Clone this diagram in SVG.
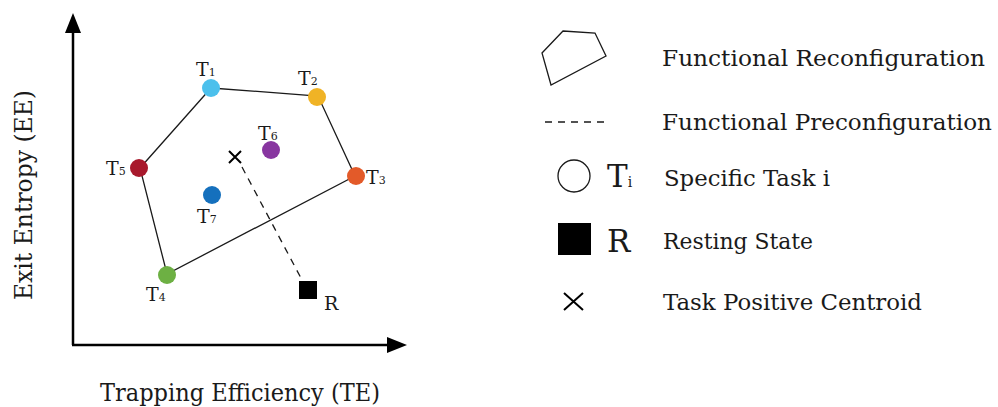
<svg xmlns="http://www.w3.org/2000/svg" width="998" height="407" viewBox="0 0 998 407">
<defs>
<style>
.t{font-family:"DejaVu Serif","Liberation Serif",serif;fill:#1a1a1a}
.lbl{font-size:19px}
.sub{font-size:11px}
.leg{font-size:22px}
.ax{font-size:25px}
.poly{fill:none;stroke:#1a1a1a;stroke-width:1.3}
.dash{fill:none;stroke:#1a1a1a;stroke-width:1.3;stroke-dasharray:7,6}
.axis{fill:none;stroke:#000;stroke-width:2.5}
</style>
</defs>
<g id="axes">
<line class="axis" x1="73" y1="345" x2="73" y2="28"/>
<polygon points="73,13 65,33 81,33" fill="#000"/>
<line class="axis" x1="72" y1="345" x2="392" y2="345"/>
<polygon points="407,345 387,337 387,353" fill="#000"/>
<text class="t ax" transform="translate(32,195) rotate(-90)" text-anchor="middle" textLength="210" lengthAdjust="spacingAndGlyphs">Exit Entropy (EE)</text>
<text class="t ax" x="100" y="401" textLength="280" lengthAdjust="spacingAndGlyphs">Trapping Efficiency (TE)</text>
</g>
<g id="connectors">
<polygon class="poly" points="211,88 318,96 355,176 167,274 140,168"/>
<line class="dash" x1="242" y1="167" x2="302" y2="280"/>
</g>
<g id="T1"><circle cx="211" cy="88" r="9" fill="#4cc0ec"/><text class="t lbl" x="196" y="76">T<tspan class="sub">1</tspan></text></g>
<g id="T2"><circle cx="317" cy="97" r="9" fill="#f0b325"/><text class="t lbl" x="298" y="85">T<tspan class="sub">2</tspan></text></g>
<g id="T3"><circle cx="356" cy="176" r="9" fill="#e35a29"/><text class="t lbl" x="366" y="184">T<tspan class="sub">3</tspan></text></g>
<g id="T4"><circle cx="167" cy="275" r="9" fill="#6db043"/><text class="t lbl" x="146" y="301">T<tspan class="sub">4</tspan></text></g>
<g id="T5"><circle cx="139" cy="168" r="9" fill="#a8192c"/><text class="t lbl" x="106" y="175">T<tspan class="sub">5</tspan></text></g>
<g id="T6"><circle cx="271" cy="150" r="9" fill="#8836a0"/><text class="t lbl" x="258" y="140">T<tspan class="sub">6</tspan></text></g>
<g id="T7"><circle cx="212" cy="195" r="9" fill="#1570bd"/><text class="t lbl" x="197" y="223">T<tspan class="sub">7</tspan></text></g>
<g id="centroid"><path d="M229,151 L241,163 M241,151 L229,163" stroke="#000" stroke-width="2" fill="none"/></g>
<g id="R"><rect x="299" y="281" width="18" height="18" fill="#000"/><text class="t lbl" x="324" y="310">R</text></g>
<g id="legend">
<polygon class="poly" points="563,31 595,33 606,56 551,85 542,53"/>
<text class="t leg" x="662" y="66" textLength="323" lengthAdjust="spacingAndGlyphs">Functional Reconfiguration</text>
<line class="dash" x1="545" y1="122" x2="607" y2="122" stroke-dasharray="8,8"/>
<text class="t leg" x="662" y="130" textLength="330" lengthAdjust="spacingAndGlyphs">Functional Preconfiguration</text>
<circle cx="574" cy="176" r="16" fill="none" stroke="#1a1a1a" stroke-width="1.3"/>
<text class="t" x="607" y="187" font-size="31">T<tspan font-size="14">i</tspan></text>
<text class="t leg" x="664" y="186" textLength="166" lengthAdjust="spacingAndGlyphs">Specific Task i</text>
<rect x="558" y="223" width="33" height="32" fill="#000"/>
<text class="t" x="607" y="252" font-size="31">R</text>
<text class="t leg" x="663" y="249" textLength="150" lengthAdjust="spacingAndGlyphs">Resting State</text>
<path d="M564,293 L583,310 M583,293 L564,310" stroke="#000" stroke-width="2" fill="none"/>
<text class="t leg" x="663" y="310" textLength="259" lengthAdjust="spacingAndGlyphs">Task Positive Centroid</text>
</g>
</svg>
